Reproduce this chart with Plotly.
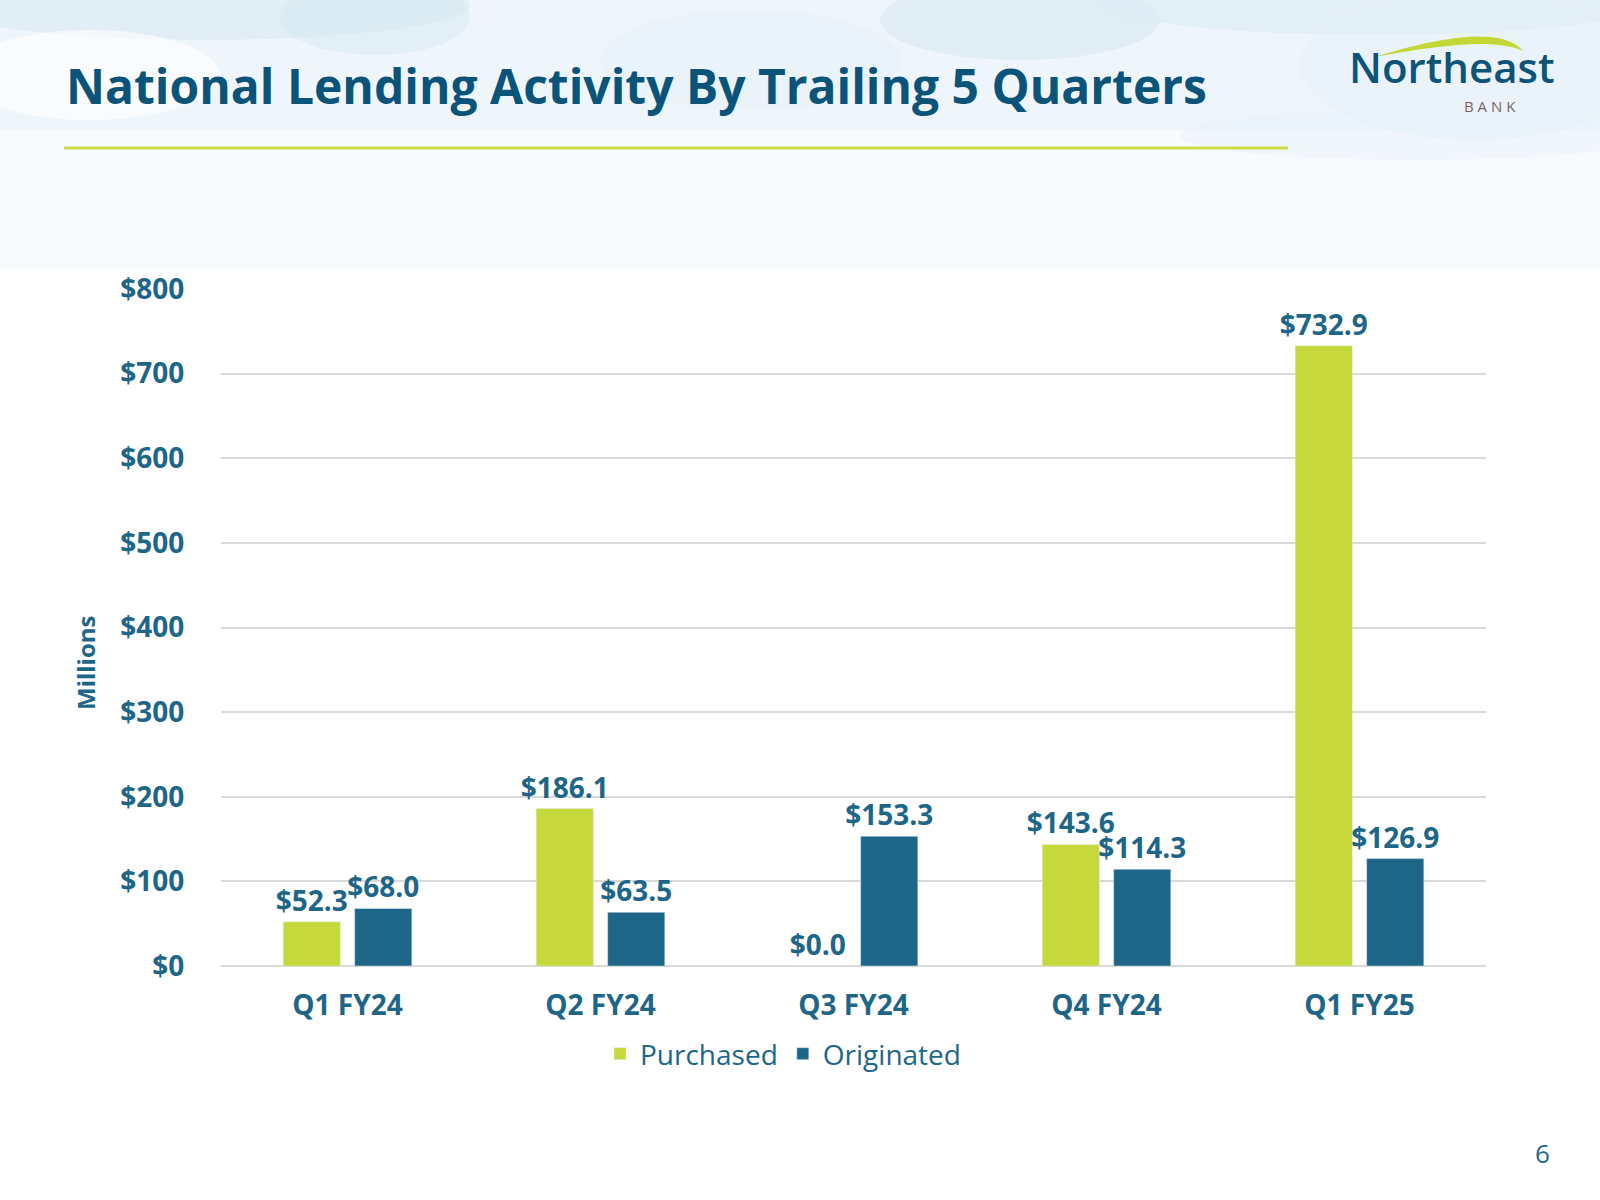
import plotly.graph_objects as go

categories = ["Q1 FY24", "Q2 FY24", "Q3 FY24", "Q4 FY24", "Q1 FY25"]
purchased = [52.3, 186.1, 0.0, 143.6, 732.9]
originated = [68.0, 63.5, 153.3, 114.3, 126.9]
y_ticks = [0, 100, 200, 300, 400, 500, 600, 700, 800]
y_tick_text = ["$" + str(v) for v in y_ticks]

W, H = 1600, 1200
L, R, T, B = 221, 114, 289, 234
PW, PH = W - L - R, H - T - B


def px(x):
    return (x - L) / PW


def py(y):
    return (H - B - y) / PH


TEAL = "#1e6688"
DARK = "#0b5479"
LIME = "#c6d93b"
FONT = "Open Sans"

fig = go.Figure()
for name, vals, col in [("Purchased", purchased, LIME), ("Originated", originated, TEAL)]:
    fig.add_trace(go.Bar(
        name=name, x=categories, y=vals, marker_color=col,
        texttemplate="$%{y:.1f}", textposition="outside", cliponaxis=False,
        constraintext="none", hoverinfo="skip",
        textfont=dict(family=FONT, size=28, color=TEAL, weight="bold"),
    ))

shapes = []
# watercolor-ish header background
shapes.append(dict(type="rect", xref="paper", yref="paper", x0=px(0), x1=px(W), y0=py(0), y1=py(268),
                   fillcolor="#f8fbfd", line_width=0, layer="below"))
shapes.append(dict(type="rect", xref="paper", yref="paper", x0=px(0), x1=px(W), y0=py(0), y1=py(130),
                   fillcolor="#eaf4fa", opacity=0.6, line_width=0, layer="below"))
blobs = [
    (-60, -30, 470, 40, "#d8e9f3", 0.6),
    (280, -20, 470, 55, "#d3e5ef", 0.4),
    (880, -20, 1160, 60, "#d3e5ef", 0.55),
    (1100, -30, 1650, 35, "#dbebf5", 0.6),
    (600, 10, 900, 110, "#e4f0f7", 0.5),
    (1300, -10, 1650, 140, "#e4f0f8", 0.5),
    (-40, 30, 220, 120, "#ffffff", 0.6),
    (1180, 110, 1650, 160, "#e8f2f9", 0.5),
]
for x0, y0, x1, y1, c, o in blobs:
    shapes.append(dict(type="circle", xref="paper", yref="paper", x0=px(x0), x1=px(x1), y0=py(y1), y1=py(y0),
                       fillcolor=c, opacity=o, line_width=0, layer="below"))
shapes.append(dict(type="rect", xref="paper", yref="paper", x0=px(-10), x1=px(W + 10), y0=py(268), y1=py(H + 10),
                   fillcolor="#ffffff", line_width=0, layer="below"))
# lime rule under the title
shapes.append(dict(type="line", xref="paper", yref="paper", x0=px(64), x1=px(1288), y0=py(148), y1=py(148),
                   line=dict(color="#cddc44", width=3)))
# logo swoosh
pts = [(1375, 57), (1430, 40), (1500, 24), (1523, 51), (1495, 38), (1440, 45), (1375, 57)]
p = [(px(a), py(b)) for a, b in pts]
path = "M{},{} C{},{} {},{} {},{} C{},{} {},{} {},{} Z".format(*[v for pt in p for v in pt])
shapes.append(dict(type="path", xref="paper", yref="paper", path=path, fillcolor="#c3d834", line_width=0))

annotations = [
    dict(text="National Lending Activity By Trailing 5 Quarters", xref="paper", yref="paper",
         x=px(64), y=py(85), xanchor="left", yanchor="middle", showarrow=False,
         font=dict(family=FONT, size=48, color=DARK, weight="bold")),
    dict(text="Northeast", xref="paper", yref="paper", x=px(1452), y=py(67), xanchor="center",
         yanchor="middle", showarrow=False, font=dict(family=FONT, size=42, color="#0e5478", weight=600)),
    dict(text="B A N K", xref="paper", yref="paper", x=px(1490), y=py(106), xanchor="center",
         yanchor="middle", showarrow=False, font=dict(family=FONT, size=15, color="#7a6464")),
    dict(text="Millions", xref="paper", yref="paper", x=px(85), y=py(663), xanchor="center",
         yanchor="middle", textangle=-90, showarrow=False,
         font=dict(family=FONT, size=24, color=TEAL, weight="bold")),
    dict(text="6", xref="paper", yref="paper", x=px(1542), y=py(1153), xanchor="center",
         yanchor="middle", showarrow=False, font=dict(family=FONT, size=26, color=TEAL)),
]

fig.update_layout(
    width=W, height=H,
    margin=dict(l=L, r=R, t=T, b=B, pad=0),
    paper_bgcolor="#ffffff", plot_bgcolor="rgba(0,0,0,0)",
    barmode="group", bargap=0.435, bargroupgap=0.2,
    font=dict(family=FONT, color=TEAL),
    shapes=shapes, annotations=annotations,
    legend=dict(orientation="h", x=px(783), y=py(1054), xanchor="center", yanchor="middle",
                font=dict(family=FONT, size=28, color=TEAL), bgcolor="rgba(0,0,0,0)",
                itemwidth=30, traceorder="normal"),
    xaxis=dict(showgrid=False, showline=False, zeroline=False,
               ticks="outside", ticklen=14, tickcolor="rgba(0,0,0,0)",
               tickfont=dict(family=FONT, size=28, color=TEAL, weight="bold")),
    yaxis=dict(range=[0, 800], tickmode="array", tickvals=y_ticks, ticktext=y_tick_text, showgrid=True,
               gridcolor="#d9d9d9", gridwidth=2, zeroline=True, zerolinecolor="#d9d9d9",
               zerolinewidth=2, showline=False, ticks="outside", ticklen=30,
               tickcolor="rgba(0,0,0,0)",
               tickfont=dict(family=FONT, size=28, color=TEAL, weight="bold")),
)

fig.write_html("out.html", config={"displayModeBar": False},
               post_script="document.body.style.margin='0';document.body.style.overflow='hidden';")
